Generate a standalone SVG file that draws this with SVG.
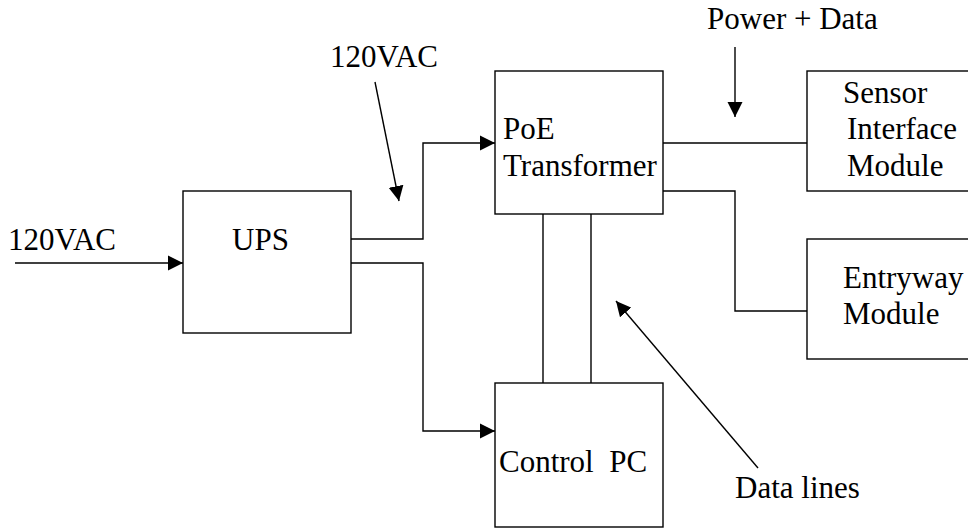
<svg xmlns="http://www.w3.org/2000/svg" width="968" height="529" viewBox="0 0 968 529">
<style>
.box{fill:none;stroke:#000;stroke-width:1.4}
.ln{fill:none;stroke:#000;stroke-width:1.4}
text{font-family:"Liberation Serif","Times New Roman",serif;font-size:31px;fill:#000}
</style>
<defs>
<marker id="ah" markerUnits="userSpaceOnUse" markerWidth="16" markerHeight="16" viewBox="0 0 16 16" refX="15" refY="8" orient="auto">
<path d="M0,0.5 L15,8 L0,15.5 Z" fill="#000"/>
</marker>
</defs>
<rect width="968" height="529" fill="#fff"/>
<g id="connectors">
<line class="ln" x1="15" y1="263" x2="183" y2="263" marker-end="url(#ah)"/>
<polyline class="ln" points="351,239 423,239 423,143 495,143" marker-end="url(#ah)"/>
<polyline class="ln" points="351,263 423,263 423,431 495,431" marker-end="url(#ah)"/>
<line class="ln" x1="663" y1="143" x2="807" y2="143"/>
<polyline class="ln" points="663,191 735,191 735,311 807,311"/>
<line class="ln" x1="543" y1="214" x2="543" y2="383"/>
<line class="ln" x1="591" y1="214" x2="591" y2="383"/>
<line class="ln" x1="375" y1="82" x2="399" y2="201" marker-end="url(#ah)"/>
<line class="ln" x1="735" y1="47" x2="735" y2="117" marker-end="url(#ah)"/>
<line class="ln" x1="758" y1="468" x2="616" y2="301" marker-end="url(#ah)"/>
</g>
<g id="labels">
<text x="8" y="250">120VAC</text>
<text x="330" y="67">120VAC</text>
<text x="707" y="29">Power + Data</text>
<text x="735" y="498">Data lines</text>
</g>
<g id="ups">
<rect class="box" x="183" y="191" width="168" height="142"/>
<text x="232" y="250">UPS</text>
</g>
<g id="poe">
<rect class="box" x="495" y="71" width="168" height="143"/>
<text x="503" y="139">PoE</text>
<text x="503" y="176">Transformer</text>
</g>
<g id="sensor">
<rect class="box" x="807" y="71" width="170" height="120"/>
<text x="843" y="103">Sensor</text>
<text x="847" y="139">Interface</text>
<text x="847" y="176">Module</text>
</g>
<g id="entryway">
<rect class="box" x="807" y="239" width="170" height="120"/>
<text x="843" y="288">Entryway</text>
<text x="843" y="324">Module</text>
</g>
<g id="controlpc">
<rect class="box" x="495" y="383" width="168" height="144"/>
<text x="499" y="472" xml:space="preserve">Control  PC</text>
</g>
</svg>
